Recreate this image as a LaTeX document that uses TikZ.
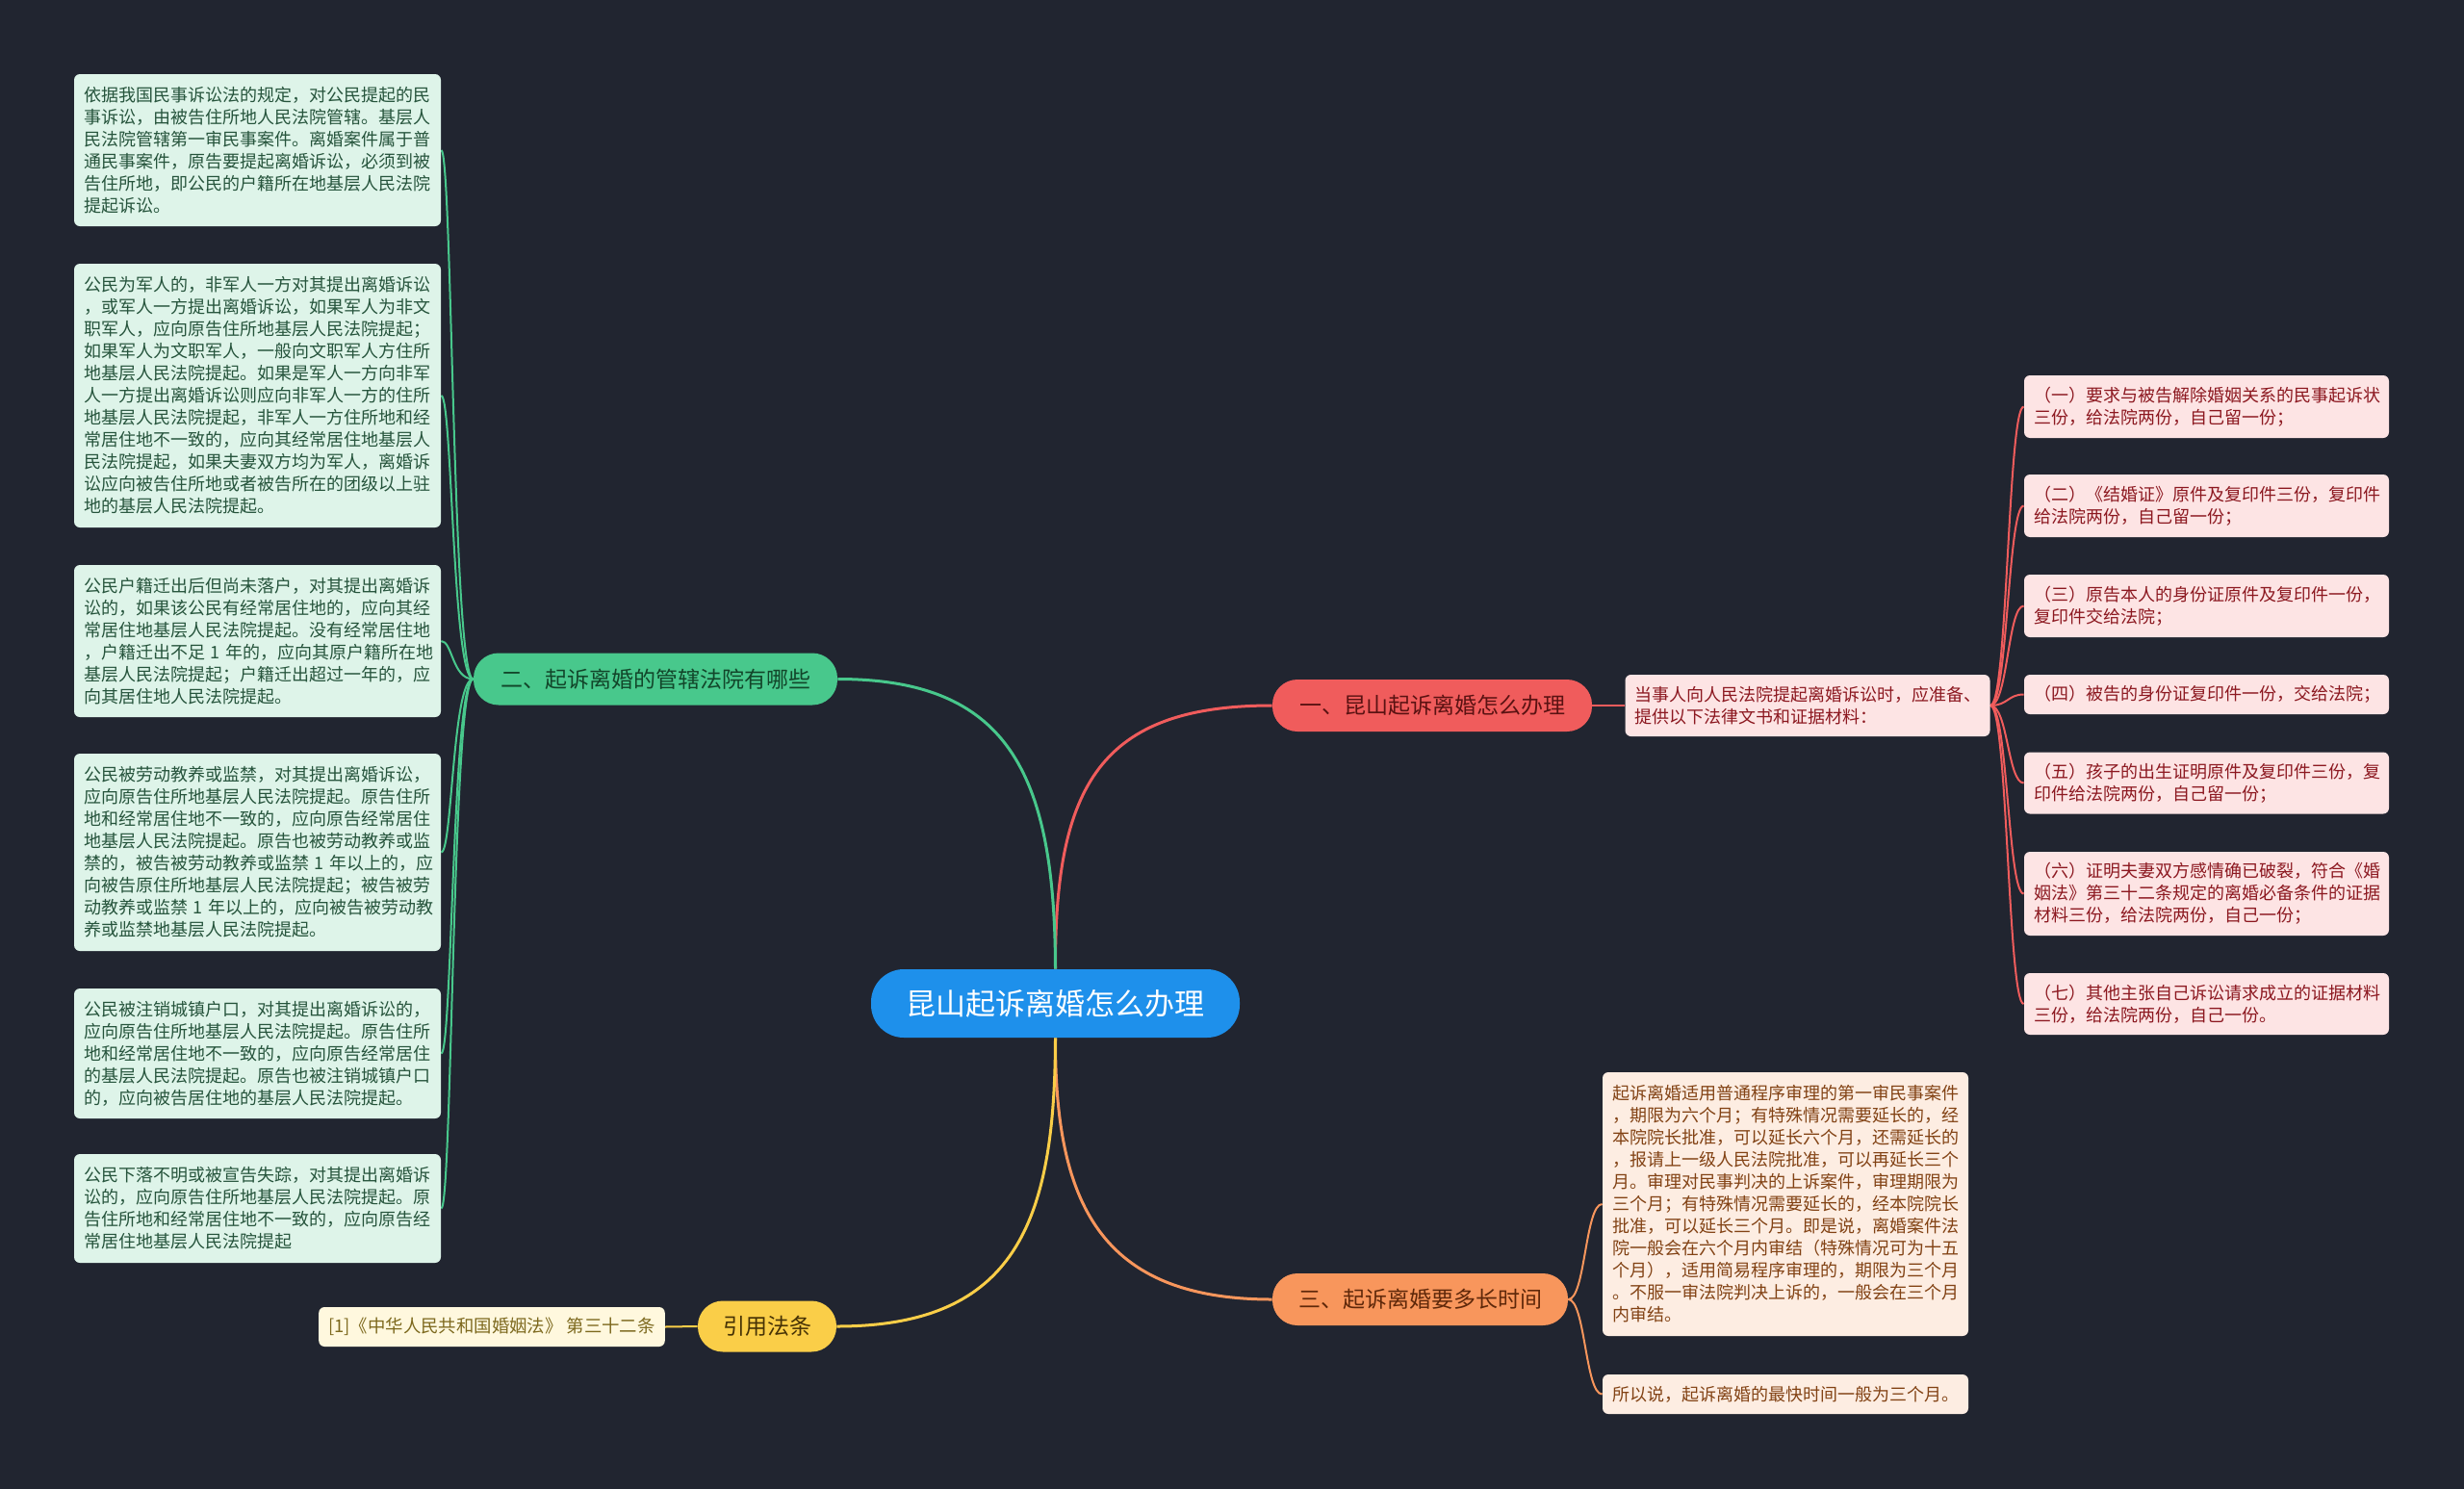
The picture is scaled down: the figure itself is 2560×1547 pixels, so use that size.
\documentclass[tikz,border=0pt]{standalone}
\usepackage{fontspec}
\setmainfont{Noto Sans CJK SC}
\newfontfamily\cjk{Noto Sans CJK SC}
\pgfdeclarelayer{bglayer}
\pgfdeclarelayer{edgelayer}
\pgfsetlayers{bglayer,edgelayer,main}
\definecolor{bgc}{RGB}{33,37,48}
\definecolor{cblue}{RGB}{30,144,235}
\definecolor{cred}{RGB}{240,92,92}
\definecolor{cgreen}{RGB}{72,200,140}
\definecolor{corange}{RGB}{248,150,92}
\definecolor{cyellow}{RGB}{250,206,72}
\definecolor{fgreen}{RGB}{222,244,233}
\definecolor{tgreen}{RGB}{38,84,60}
\definecolor{fpink}{RGB}{253,228,228}
\definecolor{tpink}{RGB}{140,24,32}
\definecolor{fpeach}{RGB}{253,237,226}
\definecolor{tpeach}{RGB}{130,66,20}
\definecolor{fcream}{RGB}{255,248,222}
\definecolor{tcream}{RGB}{125,105,30}
\tikzset{
  leafbox/.style={rounded corners=3pt, align=left, inner xsep=5pt, inner ysep=0pt,
    font=\cjk\fontsize{9pt}{11.5pt}\selectfont, text width=180.5pt, anchor=center},
  gleaf/.style={leafbox, fill=fgreen, text=tgreen},
  pleaf/.style={leafbox, fill=fpink, text=tpink, text width=179.5pt},
  oleaf/.style={leafbox, fill=fpeach, text=tpeach, text width=180pt},
  branchbox/.style={rounded corners=13pt, inner sep=0pt, align=center,
    font=\cjk\fontsize{11.5pt}{14pt}\selectfont, minimum height=27pt},
  mainline/.style={line width=1.5pt},
  subline/.style={line width=1pt},
}
\begin{document}
\begin{tikzpicture}[x=0.5pt,y=-0.5pt]
\begin{pgfonlayer}{bglayer}
\fill[bgc] (0,0) rectangle (2560,1547);
\end{pgfonlayer}

% center
\node[rounded corners=17pt, fill=cblue, text=white, minimum width=191.5pt, minimum height=35.5pt,
  inner sep=0pt, font=\cjk\fontsize{15.5pt}{18pt}\selectfont] (c) at (1096.5,1042.5) {昆山起诉离婚怎么办理};

% branches
\node[branchbox, fill=cred, text={rgb,255:red,90;green,18;blue,18}, minimum width=166pt] (b1) at (1488,733) {一、昆山起诉离婚怎么办理};
\node[branchbox, fill=cgreen, text={rgb,255:red,18;green,70;blue,42}, minimum width=189pt] (b2) at (681,705.5) {二、起诉离婚的管辖法院有哪些};
\node[branchbox, fill=corange, text={rgb,255:red,95;green,40;blue,10}, minimum width=153.5pt] (b3) at (1475.5,1350) {三、起诉离婚要多长时间};
\node[branchbox, fill=cyellow, text={rgb,255:red,70;green,50;blue,5}, minimum width=72pt, minimum height=26.5pt] (b4) at (797,1378) {引用法条};

% branch 1 children
\node[pleaf, minimum height=32pt] (s1) at (1878,733) {当事人向人民法院提起离婚诉讼时，应准备、\\提供以下法律文书和证据材料：};
\node[pleaf, minimum height=32.5pt] (r1) at (2292.5,422.5) {（一）要求与被告解除婚姻关系的民事起诉状\\三份，给法院两份，自己留一份；};
\node[pleaf, minimum height=32.5pt] (r2) at (2292.5,525.5) {（二）《结婚证》原件及复印件三份，复印件\\给法院两份，自己留一份；};
\node[pleaf, minimum height=32.5pt] (r3) at (2292.5,629.5) {（三）原告本人的身份证原件及复印件一份，\\复印件交给法院；};
\node[pleaf, minimum height=20.5pt] (r4) at (2292.5,721.5) {（四）被告的身份证复印件一份，交给法院；};
\node[pleaf, minimum height=32pt] (r5) at (2292.5,813.5) {（五）孩子的出生证明原件及复印件三份，复\\印件给法院两份，自己留一份；};
\node[pleaf, minimum height=43.5pt] (r6) at (2292.5,928.5) {（六）证明夫妻双方感情确已破裂，符合《婚\\姻法》第三十二条规定的离婚必备条件的证据\\材料三份，给法院两份，自己一份；};
\node[pleaf, minimum height=32pt] (r7) at (2292.5,1043) {（七）其他主张自己诉讼请求成立的证据材料\\三份，给法院两份，自己一份。};

% branch 2 children
\node[gleaf, minimum height=79pt] (g1) at (267.5,156) {依据我国民事诉讼法的规定，对公民提起的民\\事诉讼，由被告住所地人民法院管辖。基层人\\民法院管辖第一审民事案件。离婚案件属于普\\通民事案件，原告要提起离婚诉讼，必须到被\\告住所地，即公民的户籍所在地基层人民法院\\提起诉讼。};
\node[gleaf, minimum height=137pt] (g2) at (267.5,411) {公民为军人的，非军人一方对其提出离婚诉讼\\，或军人一方提出离婚诉讼，如果军人为非文\\职军人，应向原告住所地基层人民法院提起；\\如果军人为文职军人，一般向文职军人方住所\\地基层人民法院提起。如果是军人一方向非军\\人一方提出离婚诉讼则应向非军人一方的住所\\地基层人民法院提起，非军人一方住所地和经\\常居住地不一致的，应向其经常居住地基层人\\民法院提起，如果夫妻双方均为军人，离婚诉\\讼应向被告住所地或者被告所在的团级以上驻\\地的基层人民法院提起。};
\node[gleaf, minimum height=79pt] (g3) at (267.5,666) {公民户籍迁出后但尚未落户，对其提出离婚诉\\讼的，如果该公民有经常居住地的，应向其经\\常居住地基层人民法院提起。没有经常居住地\\，户籍迁出不足~1~年的，应向其原户籍所在地\\基层人民法院提起；户籍迁出超过一年的，应\\向其居住地人民法院提起。};
\node[gleaf, minimum height=102.5pt] (g4) at (267.5,885.5) {公民被劳动教养或监禁，对其提出离婚诉讼，\\应向原告住所地基层人民法院提起。原告住所\\地和经常居住地不一致的，应向原告经常居住\\地基层人民法院提起。原告也被劳动教养或监\\禁的，被告被劳动教养或监禁~1~年以上的，应\\向被告原住所地基层人民法院提起；被告被劳\\动教养或监禁~1~年以上的，应向被告被劳动教\\养或监禁地基层人民法院提起。};
\node[gleaf, minimum height=67.5pt] (g5) at (267.5,1094.5) {公民被注销城镇户口，对其提出离婚诉讼的，\\应向原告住所地基层人民法院提起。原告住所\\地和经常居住地不一致的，应向原告经常居住\\的基层人民法院提起。原告也被注销城镇户口\\的，应向被告居住地的基层人民法院提起。};
\node[gleaf, minimum height=56.5pt] (g6) at (267.5,1255.5) {公民下落不明或被宣告失踪，对其提出离婚诉\\讼的，应向原告住所地基层人民法院提起。原\\告住所地和经常居住地不一致的，应向原告经\\常居住地基层人民法院提起};

% branch 3 children
\node[oleaf, minimum height=137pt] (o1) at (1855,1251) {起诉离婚适用普通程序审理的第一审民事案件\\，期限为六个月；有特殊情况需要延长的，经\\本院院长批准，可以延长六个月，还需延长的\\，报请上一级人民法院批准，可以再延长三个\\月。审理对民事判决的上诉案件，审理期限为\\三个月；有特殊情况需要延长的，经本院院长\\批准，可以延长三个月。即是说，离婚案件法\\院一般会在六个月内审结（特殊情况可为十五\\个月），适用简易程序审理的，期限为三个月\\。不服一审法院判决上诉的，一般会在三个月\\内审结。};
\node[oleaf, minimum height=20.5pt] (o2) at (1855,1448.5) {所以说，起诉离婚的最快时间一般为三个月。};

% branch 4 child
\node[rounded corners=3pt, fill=fcream, text=tcream, inner xsep=5pt, inner ysep=0pt,
  minimum width=176pt, minimum height=20.5pt, font=\cjk\fontsize{9.2pt}{11pt}\selectfont] (y1) at (511,1378.5) {[1]《中华人民共和国婚姻法》 第三十二条};

\begin{pgfonlayer}{edgelayer}
% main connectors
\draw[mainline, cred] (c.north) .. controls (1096,816) and (1143,733) .. (b1.west);
\draw[mainline, cgreen] (c.north) .. controls (1096,800) and (1045,705.5) .. (b2.east);
\draw[mainline, corange] (c.south) .. controls (1096,1250) and (1143,1350) .. (b3.west);
\draw[mainline, cyellow] (c.south) .. controls (1096,1270) and (1055,1378) .. (b4.east);
% branch 1
\draw[subline, cred] (b1.east) -- (s1.west);
\foreach \n/\yy in {r1/422.5, r2/525.5, r3/629.5, r4/721.5, r5/813.5, r6/928.5, r7/1043}
  \draw[subline, cred] (s1.east) .. controls (2086,733) and (2086,\yy) .. (\n.west);
% branch 2
\foreach \n/\yy in {g1/156, g2/411, g3/666, g4/885.5, g5/1094.5, g6/1255.5}
  \draw[subline, cgreen] (b2.west) .. controls (470,705.5) and (470,\yy) .. (\n.east);
% branch 3
\foreach \n/\yy in {o1/1251, o2/1448.5}
  \draw[subline, corange] (b3.east) .. controls (1647,1350) and (1647,\yy) .. (\n.west);
% branch 4
\draw[subline, cyellow] (b4.west) -- (y1.east);
\end{pgfonlayer}
\end{tikzpicture}
\end{document}
